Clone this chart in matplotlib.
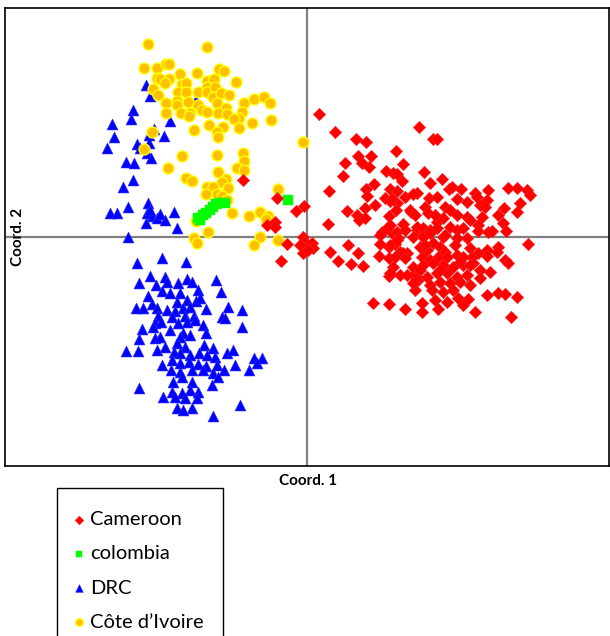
import matplotlib
matplotlib.use("Agg")
import matplotlib.pyplot as plt
from matplotlib.patches import Rectangle

# PCoA coordinates (arbitrary units)
cam_x = [-64, -30, -11, -3, -40, -32, -32, -20, -26, -4, -2, 5, 6, -4, 1, -7,
         12, 28, 49, 59, 112, 126, 130, 89, 51, 64, 38, 55, 62, 96, 36, 79, 86, 90,
         117, 95, 67, 59, 60, 83, 90, 98, 110, 22, 78, 83, 90, 68, 103, 40, 58, 50,
         52, 58, 89, 82, 96, 21, 75, 73, 81, 85, 90, 91, 110, 116, 73, 82, 88, 41,
         23, 51, 72, 82, 93, 100, 31, 44, 56, 86, 82, 93, 100, 106, 111, 108, 66,
         82, 98, 115, 115,
         123, 135, 142, 145, 154, 168, 181, 201, 210, 220, 223, 85, 106, 122, 130,
         150, 160, 170, 173, 180, 178, 213, 210, 197, 191, 104, 118, 121, 138, 143,
         130, 136, 150, 160, 163, 175, 171, 171, 181, 185, 196, 199, 83, 110, 116,
         123, 130, 143, 150, 156, 221, 191, 190, 180, 180, 171, 165, 198, 201, 96,
         88, 98, 113, 120, 126, 133, 138, 115, 123, 131, 140, 150, 156, 163, 106,
         116, 123, 136, 150, 160, 90, 83, 83, 106, 116, 126, 136, 146, 156, 166,
         173, 183, 173, 110, 120, 130, 140, 150, 160, 106, 123, 133, 143, 153, 163,
         125, 136, 146, 180, 191, 198, 210, 128, 140, 151, 161, 131, 156, 168, 204,
         108, 128, 138, 148, 118, 133, 153, 113, 98, 163]
cam_y = [57, 39, 26, 31, 12, 15, 10, -7, -24, 0, -5, -6, -11, -16, -13, -8,
         123, 105, 98, 95, 110, 98, 98, 86, 81, 81, 74, 74, 70, 73, 61, 66, 64, 63,
         65, 56, 53, 48, 41, 48, 46, 40, 44, 46, 39, 36, 34, 32, 27, 26, 29, 22,
         17, 19, 27, 21, 13, 13, 5, 2, 10, 4, 5, -1, 7, 2, -7, -10, -7, -8,
         -15, -16, -19, -21, -15, -16, -24, -27, -29, -30, -39, -38, -38, -38, -43, -53, -66,
         -67, -72, -66, -75,
         54, 58, 48, 50, 48, 44, 47, 49, 49, 47, 42, 38, 43, 39, 40,
         38, 35, 40, 32, 37, 30, 34, 25, 29, 22, 25, 30, 24, 30, 27,
         15, 19, 22, 20, 17, 20, 12, 6, 5, 6, 14, 6, 12, 10, 9,
         7, 9, 10, 7, 9, -7, -10, -15, -13, -19, -16, -20, -23, -26, -16,
         -20, -21, -10, -13, -6, -10, -15, -20, -23, -20, -20, -18, -20, -11, 0,
         0, 4, 0, -1, -1, -3, -8, -36, -30, -28, -26, -28, -30, -28, -26,
         -33, -35, -41, -40, -40, -36, -36, -40, -38, -46, -48, -45, -46, -45, -48,
         -53, -55, -53, -58, -56, -57, -60, -63, -65, -61, -62, -72, -68, -75, -80,
         22, 22, 2, -8, -8, -33, -25, -33, 7, -28]

col_x = [-109, -104, -101, -97, -94, -91, -87, -82, -107, -19]
col_y = [19, 22, 24, 27, 30, 33, 34, 34, 17, 37]

drc_x = [-161, -157, -111, -132, -174, -176, -195, -193, -200, -137, -153, -158,
         -143, -170, -158, -167, -160, -156, -181, -173, -174, -184, -179, -197,
         -190, -159, -160, -155, -150, -142, -161, -133, -130, -179, -157, -147,
         -170, -145, -121, -168, -157, -142, -140, -151, -129, -120, -115, -91,
         -86, -145, -159, -137, -127, -109, -130, -120, -111, -107, -171, -164,
         -155, -150, -140, -132, -124, -117, -101, -79, -65, -149, -135, -122,
         -113, -85, -82, -152, -146, -129, -120, -112, -104, -65, -165, -154,
         -137, -124, -117, -101, -168, -152, -147, -127, -181, -169, -150, -142,
         -130, -122, -103, -94, -133, -127, -117, -108, -100, -92, -80, -74,
         -145, -135, -127, -118, -109, -101, -90, -53, -45, -50, -83, -72, -58,
         -136, -127, -115, -104, -94, -89, -134, -125, -115, -95, -168, -135,
         -125, -117, -109, -144, -132, -122, -110, -130, -124, -115, -67, -94]
drc_y = [152, 141, 137, 137, 127, 118, 113, 100, 89, 116, 108, 102,
         101, 93, 94, 89, 84, 79, 75, 74, 57, 50, 30, 24,
         24, 34, 24, 21, 19, 17, 14, 25, 9, 0, 27, 23,
         -26, -21, -25, -46, -39, -40, -45, -48, -46, -42, -45, -43,
         -55, -54, -59, -56, -56, -53, -65, -63, -64, -61, -71, -71,
         -67, -71, -73, -74, -71, -70, -72, -70, -73, -79, -80, -79,
         -79, -80, -81, -86, -85, -86, -85, -83, -88, -90, -92, -90,
         -93, -96, -98, -96, -102, -101, -100, -100, -114, -114, -113, -110,
         -106, -110, -108, -111, -115, -116, -118, -116, -118, -120, -116, -113,
         -128, -123, -126, -125, -127, -129, -128, -121, -121, -126, -133, -128, -133,
         -133, -135, -133, -133, -136, -140, -145, -140, -145, -148, -151, -155,
         -156, -153, -155, -160, -160, -161, -161, -171, -173, -171, -168, -179]

civ_x = [-159, -100, -163, -150, -141, -138, -127, -110, -88, -83, -71, -150,
         -147, -138, -142, -125, -121, -100, -93, -154, -149, -129, -121, -109,
         -100, -100, -92, -94, -86, -78, -130, -119, -130, -141, -109, -105,
         -100, -90, -81, -89, -80, -63, -53, -43, -37, -141, -126, -117, -118,
         -65, -68, -73, -55, -36, -113, -98, -84, -90, -89, -68, -4, -155, -163,
         -125, -90, -64, -63, -139, -70, -63, -89, -121, -115, -81, -85, -79,
         -100, -94, -101, -90, -85, -80, -29, -75, -58, -47, -39, -41, -111, -99,
         -113, -110, -47, -53, -29]
civ_y = [193, 190, 169, 169, 173, 173, 163, 164, 168, 166, 155, 159,
         158, 158, 154, 153, 154, 156, 158, 148, 142, 145, 145, 145,
         150, 145, 150, 140, 144, 142, 136, 135, 132, 134, 132, 127,
         125, 134, 129, 124, 123, 134, 138, 140, 134, 124, 124, 124, 121,
         125, 119, 118, 114, 117, 107, 112, 110, 105, 100, 109, 95, 105, 88,
         81, 82, 84, 76, 69, 69, 67, 65, 59, 56, 58, 55, 49,
         50, 50, 43, 43, 41, 37, 48, 24, 21, 25, 21, 18, 16, 5,
         -1, -6, 0, -8, -3]

legend_labels = ["Cameroon", "colombia", "DRC", "Côte d\u2019Ivoire"]

plt.rcParams["font.family"] = ["Lato", "DejaVu Sans"]

fig = plt.figure(figsize=(6.1, 6.36), dpi=100)
fig.patch.set_facecolor("white")
ax = fig.add_axes([5 / 610, 1 - 466 / 636, 604 / 610, 458 / 636])

ax.axhline(0, color="#808080", lw=1.6, zorder=1)
ax.axvline(0, color="#808080", lw=1.6, zorder=1)

h_drc = ax.scatter(drc_x, drc_y, marker="^", s=62, c="#0000FF", edgecolors="#3030FF",
                   linewidths=0.4, zorder=2)
h_civ = ax.scatter(civ_x, civ_y, marker="o", s=62, c="#FFC000", edgecolors="#FFFF00",
                   linewidths=1.0, zorder=3)
h_col = ax.scatter(col_x, col_y, marker="s", s=48, c="#00FF00", edgecolors="#00FF00",
                   linewidths=0.3, zorder=4)
h_cam = ax.scatter(cam_x, cam_y, marker="D", s=40, c="#FF0000", edgecolors="#FF2020",
                   linewidths=0.4, zorder=5)

ax.set_xlim(-302, 302)
ax.set_ylim(-229, 229)
ax.set_xticks([])
ax.set_yticks([])
for sp in ax.spines.values():
    sp.set_color("black")
    sp.set_linewidth(1.2)

fig.text(308 / 610, 1 - 481 / 636, "Coord. 1", ha="center", va="center",
         fontsize=11, fontweight="bold")
fig.text(18 / 610, 1 - 237 / 636, "Coord. 2", ha="center", va="center",
         rotation=90, fontsize=11, fontweight="bold")

# legend box, open at the bottom edge of the image
fig.patches.append(Rectangle((57 / 610, -0.05), 166 / 610, 0.05 + 1 - 488 / 636,
                             transform=fig.transFigure, fill=False,
                             edgecolor="black", lw=1.0))
fig.legend([h_cam, h_col, h_drc, h_civ], legend_labels, loc="upper left",
           bbox_to_anchor=(73 / 610, 1 - 511 / 636), frameon=False,
           fontsize=14.5, handlelength=0.6, handletextpad=0.25, labelspacing=0.85,
           markerscale=0.7, borderpad=0, borderaxespad=0)

fig.savefig("out.png", dpi=100, facecolor="white")
